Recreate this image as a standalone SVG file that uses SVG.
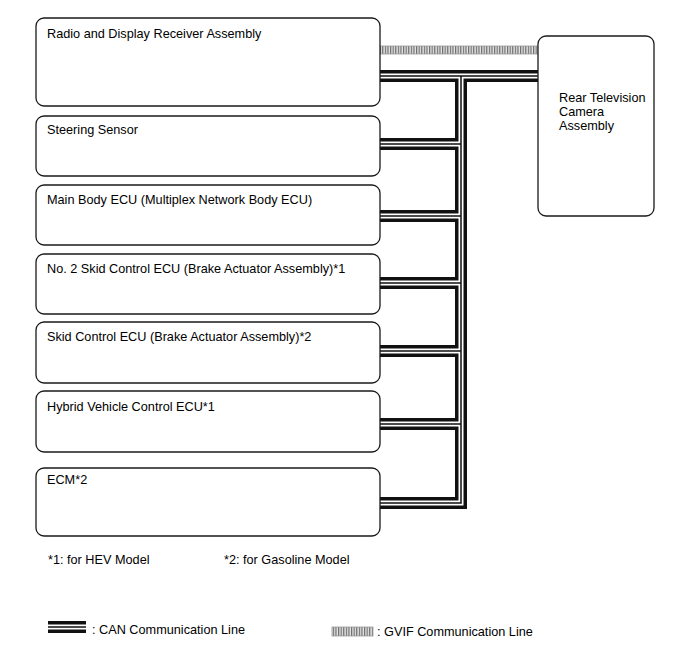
<svg xmlns="http://www.w3.org/2000/svg" width="688" height="658" viewBox="0 0 688 658">
<style>
.box{fill:#fff;stroke:#1a1a1a;stroke-width:1.3}
.t{font-family:"Liberation Sans",Arial,sans-serif;font-size:12.7px;fill:#000}
.c1{fill:none;stroke:#111;stroke-width:12;stroke-linejoin:miter;stroke-linecap:butt}
.c2{fill:none;stroke:#fff;stroke-width:5;stroke-linejoin:miter;stroke-linecap:butt}
.c3{fill:none;stroke:#111;stroke-width:1.5;stroke-linejoin:miter;stroke-linecap:butt}
.g{fill:url(#hatch);stroke:#999;stroke-width:0.8}
</style>
<defs>
<pattern id="hatch" patternUnits="userSpaceOnUse" width="2.6" height="10">
<rect width="2.6" height="10" fill="#e6e6e6"/>
<rect width="1.2" height="10" fill="#6a6a6a"/>
</pattern>
<path id="can" d="M380,76 H538 M461,76 V503 H380 M380,144 H461 M380,216 H461 M380,283 H461 M380,351 H461 M380,424 H461"/>
<path id="canl" d="M48,627 H86"/>
</defs>
<rect width="688" height="658" fill="#fff"/>
<g id="connectors">
<rect class="g" x="380" y="46" width="158" height="8"/>
<use href="#can" class="c1"/>
<use href="#can" class="c2"/>
<use href="#can" class="c3"/>
</g>
<g id="radio"><rect class="box" x="36" y="18" width="344" height="88" rx="8"/><text class="t" x="47" y="38">Radio and Display Receiver Assembly</text></g>
<g id="steering"><rect class="box" x="36" y="116" width="344" height="60" rx="8"/><text class="t" x="47" y="134">Steering Sensor</text></g>
<g id="mainbody"><rect class="box" x="36" y="185" width="344" height="60" rx="8"/><text class="t" x="47" y="204">Main Body ECU (Multiplex Network Body ECU)</text></g>
<g id="skid2"><rect class="box" x="36" y="254" width="344" height="60" rx="8"/><text class="t" x="47" y="273">No. 2 Skid Control ECU (Brake Actuator Assembly)*1</text></g>
<g id="skid"><rect class="box" x="36" y="322" width="344" height="61" rx="8"/><text class="t" x="47" y="341">Skid Control ECU (Brake Actuator Assembly)*2</text></g>
<g id="hybrid"><rect class="box" x="36" y="391" width="344" height="61" rx="8"/><text class="t" x="47" y="411">Hybrid Vehicle Control ECU*1</text></g>
<g id="ecm"><rect class="box" x="36" y="468" width="344" height="68" rx="8"/><text class="t" x="47" y="484">ECM*2</text></g>
<g id="camera"><rect class="box" x="538" y="36" width="116" height="180" rx="8"/><text class="t" x="559" y="102">Rear Television</text><text class="t" x="559" y="116">Camera</text><text class="t" x="559" y="130">Assembly</text></g>
<g id="notes">
<text class="t" x="48" y="564">*1: for HEV Model</text>
<text class="t" x="224" y="564">*2: for Gasoline Model</text>
</g>
<g id="legend">
<use href="#canl" class="c1"/>
<use href="#canl" class="c2"/>
<use href="#canl" class="c3"/>
<text class="t" x="92" y="634">: CAN Communication Line</text>
<rect class="g" x="332" y="627" width="41" height="9"/>
<text class="t" x="377" y="636">: GVIF Communication Line</text>
</g>
</svg>
